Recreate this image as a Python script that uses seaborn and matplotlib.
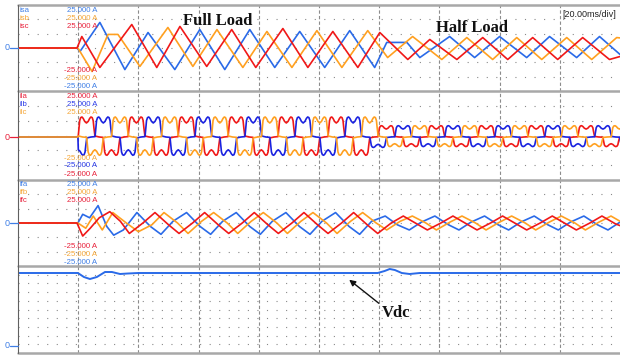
import numpy as np
import pandas as pd
import matplotlib
matplotlib.use("Agg")
import matplotlib.pyplot as plt
import seaborn as sns
from matplotlib.lines import Line2D

# ---------------- data ----------------
# time in ms (20 ms/div, 10 div), currents in A, Vdc in V
isa_t = [0, 19.6, 20.6, 27.2, 35.5, 43.2, 52.1, 60.4, 68.7, 77.0, 85.3, 93.6, 101.9, 110.2,
         118.5, 122.5, 129.2, 133.5, 143.4, 151.7, 160.0, 169.0, 176.6, 185.6, 193.2, 200]
isa_v = [0, 0, -2.0, 14.7, -12.4, 8.9, -12.4, 10.6, -12.4, 10.6, -11.2, 9.5, -11.2, 10.0,
         -11.2, 3.2, 3.2, -5.5, 6.6, -5.5, 6.6, -5.5, 6.6, -5.5, 6.6, -3.7]
isb_t = [0, 19.9, 24.6, 29.9, 33.2, 40.5, 49.8, 58.1, 66.1, 74.7, 82.7, 91.0, 99.3, 107.6,
         116.2, 122.8, 131.1, 140.8, 149.1, 157.7, 165.7, 174.0, 182.3, 190.6, 198.9, 200]
isb_v = [0, 0, -13.5, 7.8, 7.8, -10.6, 11.8, -10.6, 10.6, -11.2, 9.5, -11.2, 10.0, -11.2,
         10.0, -5.5, 6.6, -6.6, 6.0, -6.6, 6.0, -6.6, 6.0, -6.6, 6.0, 5.8]
isc_t = [0, 19.6, 21.2, 27.2, 37.8, 46.1, 53.8, 62.7, 71.0, 79.0, 88.0, 96.3, 104.6, 112.9,
         120.2, 129.5, 136.8, 145.8, 154.4, 162.7, 171.0, 179.3, 187.6, 196.5, 200]
isc_v = [0, 0, 6.6, -11.2, 13.5, -11.2, 12.4, -10.6, 10.6, -11.2, 11.2, -11.2, 9.5, -11.2,
         8.9, -6.6, 4.9, -6.6, 6.0, -6.6, 6.0, -6.6, 6.0, -6.6, -4.9]

# load currents: one cycle shape (fraction of period, per-unit)
il_period = 16.6
il_shape_frac = [0.0, 0.015, 0.03, 0.05, 0.075, 0.10, 0.13, 0.165, 0.20, 0.23, 0.255, 0.28,
                 0.30, 0.315, 0.335, 0.42,
                 0.5, 0.515, 0.53, 0.55, 0.575, 0.60, 0.63, 0.665, 0.70, 0.73, 0.755, 0.78,
                 0.80, 0.815, 0.835, 0.92]
il_shape_val = [0.02, 0.45, 0.82, 0.97, 1.0, 0.93, 0.78, 0.70, 0.78, 0.93, 1.0, 0.97,
                0.82, 0.45, 0.05, 0.0,
                -0.02, -0.45, -0.82, -0.97, -1.0, -0.93, -0.78, -0.70, -0.78, -0.93, -1.0, -0.97,
                -0.82, -0.45, -0.05, 0.0]
ila_start = [3.4, 20.0, 36.6, 53.2, 69.8, 86.4, 103.0, 119.6, 136.2, 152.8, 169.4, 186.0]
ila_pos = [11.5, 11.5, 11.5, 11.5, 11.5, 11.5, 11.5, 6.5, 6.5, 6.5, 6.5, 6.5]
ila_neg = [10.5, 10.5, 10.5, 10.5, 10.5, 10.5, 10.5, 5.5, 5.5, 5.5, 5.5, 5.5]
ilb_start = [-7.6, 9.0, 25.6, 42.2, 58.8, 75.4, 92.0, 108.6, 125.2, 141.8, 158.4, 175.0, 191.6]
ilb_pos = [11.5, 11.5, 11.5, 11.5, 11.5, 11.5, 11.5, 11.5, 6.5, 6.5, 6.5, 6.5, 6.5]
ilb_neg = [10.5, 10.5, 10.5, 10.5, 10.5, 10.5, 10.5, 6.0, 5.5, 5.5, 5.5, 5.5, 5.5]
ilc_start = [-2.1, 14.5, 31.1, 47.7, 64.3, 80.9, 97.5, 114.1, 130.7, 147.3, 163.9, 180.5, 197.1]
ilc_pos = [11.5, 11.5, 11.5, 11.5, 11.5, 11.5, 11.5, 11.5, 6.5, 6.5, 6.5, 6.5, 6.5]
ilc_neg = [10.5, 10.5, 10.5, 10.5, 10.5, 10.5, 10.5, 5.5, 5.5, 5.5, 5.5, 5.5, 5.5]

# filter currents (turning points)
ifa_t = [0, 19.9, 21.5, 23.8, 26.6, 29.5, 31.8, 35.0, 39.5, 44.0, 47.5, 51.5, 56.0, 60.5,
         64.0, 68.0, 72.5, 77.0, 80.5, 84.5, 89.0, 93.5, 97.0, 101.0, 105.5, 110.0, 113.5,
         117.5, 122.0, 126.0, 130.0, 134.0, 138.5, 143.0, 146.5, 150.5, 155.0, 159.5, 163.0,
         167.0, 171.5, 176.0, 179.5, 183.5, 188.0, 192.5, 196.0, 200]
ifa_v = [0, 0, 5.0, 3.0, 10.0, -2.0, -7.0, -4.0, 6.0, -2.0, -6.5, 1.0, 6.0, -2.0,
         -6.5, 1.0, 6.0, -2.0, -6.5, 1.0, 6.0, -2.0, -6.5, 1.0, 6.0, -2.0, -6.5,
         1.0, 4.0, -1.0, -4.0, 0.5, 4.0, -1.0, -4.0, 0.5, 4.0, -1.0, -4.0,
         0.5, 4.0, -1.0, -4.0, 0.5, 4.0, -1.0, -4.0, 0.5]
ifb_t = [0, 19.9, 22.5, 25.0, 28.0, 31.5, 36.0, 40.0, 44.5, 48.5, 53.0, 56.5, 61.0, 65.0,
         69.5, 73.0, 77.5, 81.5, 86.0, 89.5, 94.0, 98.0, 102.5, 106.0, 110.5, 114.5, 119.0,
         122.5, 127.0, 131.0, 135.5, 139.0, 143.5, 147.5, 152.0, 155.5, 160.0, 164.0, 168.5,
         172.0, 176.5, 180.5, 185.0, 188.5, 193.0, 197.0, 200]
ifb_v = [0, 0, -3.0, 4.0, -4.0, 6.0, 0.0, -5.0, -1.0, 6.0, 0.0, -6.0, 1.0, 6.0,
         0.0, -6.0, 1.0, 6.0, 0.0, -6.0, 1.0, 6.0, 0.0, -6.0, 1.0, 6.0, 0.0,
         -4.0, 1.0, 4.0, 0.0, -4.0, 0.5, 4.0, 0.0, -4.0, 0.5, 4.0, 0.0,
         -4.0, 0.5, 4.0, 0.0, -4.0, 0.5, 4.0, 1.0]
ifc_t = [0, 19.6, 21.5, 24.0, 27.0, 30.5, 34.0, 37.0, 41.5, 45.5, 50.0, 53.5, 58.0, 62.0,
         66.5, 70.0, 74.5, 78.5, 83.0, 86.5, 91.0, 95.0, 99.5, 103.0, 107.5, 111.5, 116.0,
         119.5, 124.0, 128.0, 132.5, 136.0, 140.5, 144.5, 149.0, 152.5, 157.0, 161.0, 165.5,
         169.0, 173.5, 177.5, 182.0, 185.5, 190.0, 194.0, 198.5, 200]
ifc_v = [0, 0, -7.5, -3.0, 3.0, 6.5, 1.0, -6.0, 0.0, 6.0, -1.0, -6.0, 0.0, 6.0,
         -1.0, -6.0, 0.0, 6.0, -1.0, -6.0, 0.0, 6.0, -1.0, -6.0, 0.0, 6.0, -1.0,
         -6.0, 0.0, 4.0, -0.5, -4.0, 0.0, 4.0, -0.5, -4.0, 0.0, 4.0, -0.5,
         -4.0, 0.0, 4.0, -0.5, -4.0, 0.0, 4.0, -0.5, -1.5]

vdc_t = [0, 19.9, 21.9, 23.9, 26.2, 28.9, 31.2, 33.9, 36.5, 40.0, 119.5, 121.8, 123.5,
         125.2, 127.5, 130.1, 133.5, 200]
vdc_v = [730, 730, 690, 670, 690, 740, 740, 720, 725, 730, 730, 750, 770,
         760, 730, 720, 730, 730]

# ---------------- styling ----------------
W, H = 620, 356
BLUE = '#2a6ae8'
BLUE2 = '#1a22e0'
RED = '#f01818'
ORANGE = '#ffa020'
TBLUE, TORANGE, TRED, TBLUE2 = '#3f7fe6', '#f5a636', '#e8203a', '#2a3ae8'

sns.set_theme(style="white")
plt.rcParams['font.family'] = ['Liberation Sans', 'DejaVu Sans']

fig = plt.figure(figsize=(W / 100, H / 100), dpi=100)


def rect(x0, y0, x1, y1):
    return [x0 / W, 1 - y1 / H, (x1 - x0) / W, (y1 - y0) / H]


def P(x, y):
    return (x / W, 1 - y / H)


panels_px = [(5, 91), (91, 180), (180, 266), (266, 353)]
zeros_px = [48, 137, 223, 346]
axes = [fig.add_axes(rect(18, y0, 620, y1)) for (y0, y1) in panels_px]

ppa = 1.74  # pixels per amp
for ax, (y0, y1), z in zip(axes[:3], panels_px[:3], zeros_px[:3]):
    ax.set_ylim(-(y1 - z) / ppa, (z - y0) / ppa)
ppv = 0.1  # pixels per volt
axes[3].set_ylim(-(353 - 346) / ppv, (346 - 266) / ppv)


def wave(starts, pos, neg):
    ts, vs = [0.0, 19.9], [0.0, 0.0]
    for s, ap, an in zip(starts, pos, neg):
        for f, v in zip(il_shape_frac, il_shape_val):
            t = s + f * il_period
            if t > 19.9:
                ts.append(t)
                vs.append(v * (ap if v >= 0 else an))
    return ts, vs


def frame(series):
    parts = [pd.DataFrame({'t': t, 'v': v, 'phase': name}) for name, (t, v) in series.items()]
    return pd.concat(parts, ignore_index=True)


df1 = frame({'isa': (isa_t, isa_v), 'isb': (isb_t, isb_v), 'isc': (isc_t, isc_v)})
df2 = frame({'ila': wave(ila_start, ila_pos, ila_neg),
             'ilb': wave(ilb_start, ilb_pos, ilb_neg),
             'ilc': wave(ilc_start, ilc_pos, ilc_neg)})
df3 = frame({'ifa': (ifa_t, ifa_v), 'ifb': (ifb_t, ifb_v), 'ifc': (ifc_t, ifc_v)})
df4 = frame({'vdc': (vdc_t, vdc_v)})

lw = 1.2
sns.lineplot(data=df1, x='t', y='v', hue='phase', hue_order=['isa', 'isb', 'isc'],
             palette=[BLUE, ORANGE, RED], ax=axes[0], legend=False, sort=False,
             estimator=None, linewidth=lw)
sns.lineplot(data=df2, x='t', y='v', hue='phase', hue_order=['ila', 'ilb', 'ilc'],
             palette=[RED, BLUE2, ORANGE], ax=axes[1], legend=False, sort=False,
             estimator=None, linewidth=lw)
sns.lineplot(data=df3, x='t', y='v', hue='phase', hue_order=['ifa', 'ifb', 'ifc'],
             palette=[BLUE, ORANGE, RED], ax=axes[2], legend=False, sort=False,
             estimator=None, linewidth=lw)
sns.lineplot(data=df4, x='t', y='v', hue='phase', palette=[BLUE], ax=axes[3],
             legend=False, sort=False, estimator=None, linewidth=1.4)

ndiv = [6, 6, 6, 10]
for ax, nd in zip(axes, ndiv):
    ax.set_xlim(0, 200)
    ax.set_xticks([])
    ax.set_yticks([])
    ax.set_xlabel('')
    ax.set_ylabel('')
    ax.patch.set_alpha(0)
    for s in ax.spines.values():
        s.set_visible(False)
    lo, hi = ax.get_ylim()
    for lev in np.linspace(lo, hi, nd + 1)[1:-1]:
        ax.axhline(lev, color='#8a8a8a', lw=0.8, ls=(0, (1.0, 7.6)), zorder=0,
                   dash_capstyle='butt')
    for tv in range(20, 200, 20):
        ax.axvline(tv, color='#8c8c8c', lw=0.8, ls=(0, (3, 2)), zorder=0)

# frame lines
for y in [5, 91, 180, 266, 353]:
    fig.add_artist(Line2D([18 / W, 1], [1 - y / H] * 2, color='#a8a8a8', lw=1.8))
fig.add_artist(Line2D([18 / W] * 2, [1 - 5 / H, 1 - 353 / H], color='#606060', lw=0.8))

# zero markers
for z, c in zip(zeros_px, [TBLUE, TRED, TBLUE, TBLUE]):
    fig.text(*P(7, z), '0', color=c, fontsize=6.5, ha='center', va='center')
    fig.add_artist(Line2D([10 / W, 18 / W], [1 - z / H] * 2, color=c, lw=0.9))

fs = 5.6
chan = [
    (['isa', 'isb', 'isc'], [TBLUE, TORANGE, TRED], [10, 18, 26],
     [TRED, TORANGE, TBLUE], [71, 79, 87]),
    (['ila', 'ilb', 'ilc'], [TRED, TBLUE2, TORANGE], [97, 105, 113],
     [TORANGE, TBLUE2, TRED], [158, 166, 174]),
    (['ifa', 'ifb', 'ifc'], [TBLUE, TORANGE, TRED], [184, 192, 201],
     [TRED, TORANGE, TBLUE], [246, 254, 262]),
]
for names, cols, ys, lcols, lys in chan:
    for n, c, y in zip(names, cols, ys):
        fig.text(*P(19, y), n, color=c, fontsize=fs, ha='left', va='center')
        fig.text(*P(97, y), '25.000 A', color=c, fontsize=fs, ha='right', va='center')
    for c, y in zip(lcols, lys):
        fig.text(*P(97, y), '-25.000 A', color=c, fontsize=fs, ha='right', va='center')

fig.text(*P(589, 17), '[20.00ms/div]', fontsize=6.5, ha='center', va='baseline', color='#222222')
fig.text(*P(218, 25), 'Full Load', fontsize=12, fontweight='bold', ha='center',
         va='baseline', family='Liberation Serif', color='#111111')
fig.text(*P(472, 31.5), 'Half Load', fontsize=12, fontweight='bold', ha='center',
         va='baseline', family='Liberation Serif', color='#111111')
fig.text(*P(396, 317), 'Vdc', fontsize=12, fontweight='bold', ha='center',
         va='baseline', family='Liberation Serif', color='#111111')
fig.add_artist(matplotlib.patches.FancyArrowPatch(
    posA=P(381, 305), posB=P(347, 278), transform=fig.transFigure,
    arrowstyle='-|>', mutation_scale=9, color='#111111', lw=1.0))

fig.savefig('out.png', dpi=100, facecolor='white')
